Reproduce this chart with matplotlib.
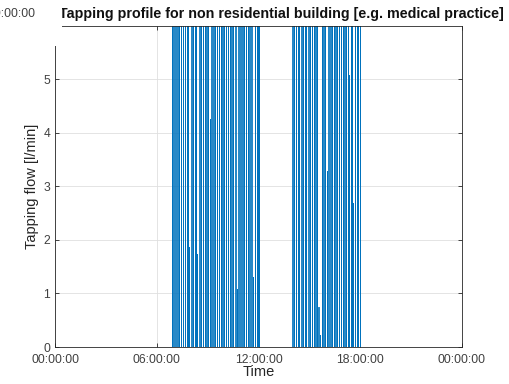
import matplotlib.pyplot as plt
import matplotlib.patches as mpatches

# tapping events: start (minutes after midnight), duration (min), flow (l/min)
tap_start = [414, 419, 425, 433, 438, 446, 452, 459, 466, 470, 474, 481, 488, 494, 499,
             503, 511, 516, 524, 531, 536, 542, 548, 553, 560, 566, 573, 579, 586, 592,
             599, 605, 611, 618, 624, 631, 637, 643, 649, 656, 662, 669, 675, 682, 688,
             695, 701, 707, 713, 718, 722,
             840, 846, 851, 858, 864, 871, 876, 883, 889, 896, 902, 908, 915, 921, 927,
             932, 937, 943, 949, 955, 961, 967, 973, 980, 986, 992, 999, 1005, 1011, 1018,
             1024, 1030, 1035, 1040, 1046, 1051, 1055, 1061, 1067, 1073, 1078]
tap_dur = [1, 0.5, 2, 0.5, 1, 0.5, 2, 1, 0.5, 1, 0.5, 2, 0.5, 1, 1,
           0.5, 2, 0.5, 1, 0.5, 2, 1, 0.5, 1, 2, 0.5, 1, 0.5, 2, 1,
           0.5, 1, 2, 0.5, 1, 0.5, 2, 0.5, 1, 0.5, 2, 1, 0.5, 1, 2,
           0.5, 0.5, 1, 2, 0.5, 0.5,
           0.5, 1, 2, 0.5, 1, 2, 0.5, 1, 0.5, 2, 1, 0.5, 2, 1, 0.5,
           0.5, 0.5, 1, 2, 0.5, 0.5, 1, 2, 0.5, 1, 2, 0.5, 1, 0.5, 2,
           1, 0.5, 2, 0.5, 1, 0.5, 0.5, 1, 2, 0.5, 0.5]
tap_flow = [12, 12, 12, 12, 12, 12, 12, 12, 12, 12, 1.87, 12, 12, 12, 12,
            1.73, 12, 12, 12, 12, 12, 12, 4.25, 12, 12, 12, 12, 12, 12, 12,
            12, 12, 12, 12, 12, 12, 12, 1.08, 12, 12, 12, 12, 12, 12, 12,
            12, 1.30, 12, 12, 12, 12,
            12, 12, 12, 12, 12, 12, 12, 12, 12, 12, 12, 12, 12, 12, 12,
            0.75, 0.22, 12, 12, 12, 3.29, 12, 12, 12, 12, 12, 12, 12, 12, 12,
            12, 12, 12, 5.07, 12, 12, 2.69, 12, 12, 12, 12]

tick_hours = [0, 6, 12, 18, 24]
tick_labels = ["00:00:00", "06:00:00", "12:00:00", "18:00:00", "00:00:00"]

# build the flow profile as a sampled series (hours, l/min)
t = [0.0]
q = [0.0]
for s, d, f in zip(tap_start, tap_dur, tap_flow):
    t += [s / 60, s / 60, (s + d) / 60, (s + d) / 60]
    q += [0, f, f, 0]
t.append(24.0)
q.append(0.0)

ax_col = "#262626"
line_col = "#0072BD"
plt.rcParams['font.family'] = ['Liberation Sans', 'DejaVu Sans']

fig = plt.figure(figsize=(5.1, 3.84), dpi=100, facecolor="white")
ax = fig.add_axes([55 / 510, 37 / 384, 407 / 510, 321 / 384])
ax.plot(t, q, color=line_col, lw=0.6)

ax.set_xlim(0, 24)
ax.set_ylim(0, 5.99)
ax.set_xticks(tick_hours)
ax.set_xticklabels(tick_labels)
ax.set_yticks(range(0, 6))
ax.grid(True, color="#dfdfdf", lw=0.6)
ax.set_axisbelow(True)
ax.tick_params(direction="in", length=3, width=0.6, colors=ax_col, labelsize=8.7,
               top=True, right=True, labelcolor="#404040")
ax.tick_params(axis="x", pad=5)
for sp in ax.spines.values():
    sp.set_color(ax_col)
    sp.set_linewidth(0.6)
ax.set_xlabel("Time", fontsize=10.5, color=ax_col, labelpad=-1)
ax.set_ylabel("Tapping flow [l/min]", fontsize=10.5, color=ax_col, labelpad=3)

fig.text(281 / 510, 1 - 14 / 384,
         "Tapping profile for non residential building [e.g. medical practice]",
         ha="center", va="center", fontsize=10.3, fontweight="bold", color="#111111")

# white box over top-left corner with a stray time label
fig.patches.append(mpatches.Rectangle((0, 1 - 46 / 384), 62 / 510, 46 / 384,
                                      transform=fig.transFigure, facecolor="white",
                                      edgecolor="none", zorder=5))
fig.text(35 / 510, 1 - 14 / 384, "00:00:00", ha="right", va="center",
         fontsize=8.7, color="#404040", zorder=6)

fig.savefig("out.png", dpi=100)
